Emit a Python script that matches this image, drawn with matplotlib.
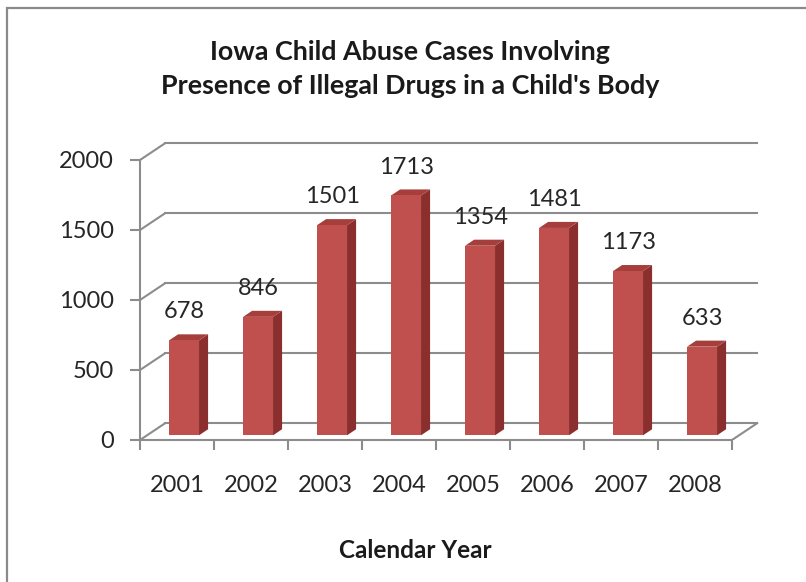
import matplotlib
matplotlib.use("Agg")
import matplotlib.pyplot as plt
from matplotlib.patches import Polygon, Rectangle

plt.rcParams['font.family'] = ['Lato', 'DejaVu Sans']

years = ['2001', '2002', '2003', '2004', '2005', '2006', '2007', '2008']
cases = [678, 846, 1501, 1713, 1354, 1481, 1173, 633]
yticks = [0, 500, 1000, 1500, 2000]

title = "Iowa Child Abuse Cases Involving\nPresence of Illegal Drugs in a Child's Body"
xlabel = "Calendar Year"

# fake 3d depth (data units)
DX = 0.34
DY = 120
f0, f1 = 0.28, 0.64
bw = 0.405

grid_c = '#8c8c8c'
front_c = '#c0504d'
side_c = '#8a2f2d'
top_c = '#a63f3c'

fig = plt.figure(figsize=(8.06, 5.82), dpi=100)
ax = fig.add_axes([140/806, 142/582, 621.6/806, 301/582])
n = len(years)
ax.set_xlim(0, 8.4)
ax.set_ylim(0, 2150)

# border of chart area
fig.patches.append(Rectangle((7/806, -0.1), 1.1, 1 - 8/582 + 0.1, transform=fig.transFigure,
                             fill=False, edgecolor='#8a8a8a', lw=1.6, zorder=0))

# gridlines on back wall + diagonals on side wall
for t in yticks:
    ax.plot([0, DX], [t, t + DY], color=grid_c, lw=1.5, zorder=1, solid_capstyle='round')
    ax.plot([DX, n + DX], [t + DY, t + DY], color=grid_c, lw=1.5, zorder=1)
# floor right edge
ax.plot([n, n + DX], [0, DY], color=grid_c, lw=1.5, zorder=1)

for i, v in enumerate(cases):
    x0 = i + 0.5 - bw / 2 + f0 * DX
    x1 = x0 + bw
    y0 = f0 * DY
    ddx = (f1 - f0) * DX
    ddy = (f1 - f0) * DY
    ax.add_patch(Polygon([(x1, y0), (x1 + ddx, y0 + ddy), (x1 + ddx, y0 + ddy + v), (x1, y0 + v)],
                         closed=True, facecolor=side_c, edgecolor='none', zorder=3))
    ax.add_patch(Polygon([(x0, y0 + v), (x1, y0 + v), (x1 + ddx, y0 + v + ddy), (x0 + ddx, y0 + v + ddy)],
                         closed=True, facecolor=top_c, edgecolor='none', zorder=3))
    ax.add_patch(Rectangle((x0, y0), bw, v, facecolor=front_c, edgecolor='none', zorder=4))
    ax.text((x0 + x1) / 2, y0 + v + 128, str(v), ha='center', va='bottom',
            fontsize=17, color='#262626', zorder=5)

for s in ['top', 'right']:
    ax.spines[s].set_visible(False)
for s in ['left', 'bottom']:
    ax.spines[s].set_color(grid_c)
    ax.spines[s].set_linewidth(1.5)
ax.spines['left'].set_bounds(0, 2000)
ax.spines['bottom'].set_bounds(0, n)

ax.set_yticks(yticks)
ax.set_yticklabels([str(t) for t in yticks])
ax.set_xticks(range(n + 1))
ax.set_xticklabels([])
ax.set_xticks([i + 0.5 for i in range(n)], minor=True)
ax.set_xticklabels(years, minor=True)
ax.tick_params(axis='y', length=7, width=1.5, color=grid_c, pad=12, labelsize=17, labelcolor='#262626')
ax.tick_params(axis='x', which='major', length=7, width=1.5, color=grid_c)
ax.tick_params(axis='x', which='minor', length=0, pad=25, labelsize=17, labelcolor='#262626')
ax.patch.set_visible(False)

fig.text(410/806, 1 - 69/582, title, ha='center', va='center', fontsize=19.4,
         fontweight='bold', linespacing=1.45, color='#1a1a1a')
fig.text(415/806, 1 - 551/582, xlabel, ha='center', va='center', fontsize=17.5,
         fontweight='bold', color='#1a1a1a')

fig.savefig('out.png', dpi=100)
